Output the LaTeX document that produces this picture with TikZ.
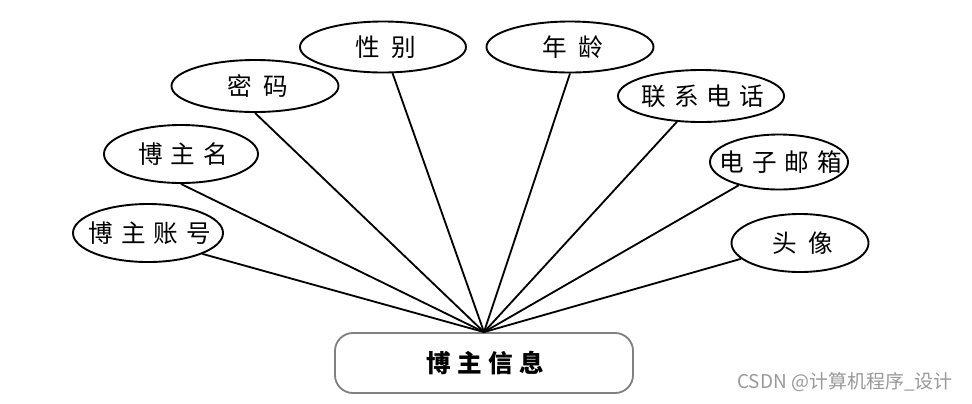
\documentclass[tikz,border=0pt]{standalone}
\usepackage{fontspec}
\newfontfamily\cjk[LetterSpace=32]{Noto Sans CJK SC}
\newfontfamily\cjkwide[LetterSpace=48]{Noto Sans CJK SC}
\newfontfamily\cjkbox[LetterSpace=26]{Noto Sans CJK SC}
\newfontfamily\cjkmark{Noto Sans CJK SC}
\usetikzlibrary{shapes.geometric}
% label kept out of the ellipse size, trailing letter space put back
\newcommand\lbl[2][0.16em]{\makebox[0pt]{\hspace{#1}#2}}

\begin{document}
\begin{tikzpicture}[
x=0.025cm, y=-0.025cm,
attr/.style={
  draw,
  ellipse,
  line width=1.35pt,
  inner sep=0pt,
  font=\cjk\fontsize{17.5}{20}\selectfont
},
attrwide/.style={
  attr,
  font=\cjkwide\fontsize{17.5}{20}\selectfont
},
entity/.style={
  draw=black!50,
  rounded corners=0.45cm,
  line width=1.3pt,
  minimum width=7.45cm,
  minimum height=1.5cm,
  font=\cjkbox\bfseries\fontsize{17.5}{20}\selectfont
},
link/.style={line width=1.3pt}
]
\useasboundingbox (0,0) rectangle (972,403);

\node[entity] (info) at (484,363) {\lbl[0.13em]{博主信息}};

\node[attr,minimum width=3.75cm,minimum height=1.45cm] (account) at (148,233) {\lbl{博主账号}};
\node[attr,minimum width=3.85cm,minimum height=1.45cm] (name) at (181,154) {\lbl{博主名}};
\node[attrwide,minimum width=4.175cm,minimum height=1.3cm] (pwd) at (255,86) {\lbl[0.24em]{密码}};
\node[attrwide,minimum width=4.15cm,minimum height=1.275cm] (sex) at (383,47) {\lbl[0.24em]{性别}};
\node[attrwide,minimum width=4.175cm,minimum height=1.275cm] (age) at (570,47) {\lbl[0.24em]{年龄}};
\node[attr,minimum width=4.15cm,minimum height=1.3cm] (phone) at (701,96) {\lbl{联系电话}};
\node[attr,minimum width=3.45cm,minimum height=1.375cm] (mail) at (779,162) {\lbl{电子邮箱}};
\node[attrwide,minimum width=3.425cm,minimum height=1.45cm] (avatar) at (800,243) {\lbl[0.24em]{头像}};

\draw[link] (account.-21) -- (info.north);
\draw[link] (name.south) -- (info.north);
\draw[link] (pwd.south) -- (info.north);
\draw[link] (sex.-70) -- (info.north);
\draw[link] (age.south) -- (info.north);
\draw[link] (phone.-133) -- (info.north);
\draw[link] (mail.-150) -- (info.north);
\draw[link] (avatar.-165) -- (info.north);

\node[text=black!40,font=\cjkmark\fontsize{13.5}{15}\selectfont] (mark) at (845,382) {CSDN @计算机程序\_设计};
\end{tikzpicture}
\end{document}
